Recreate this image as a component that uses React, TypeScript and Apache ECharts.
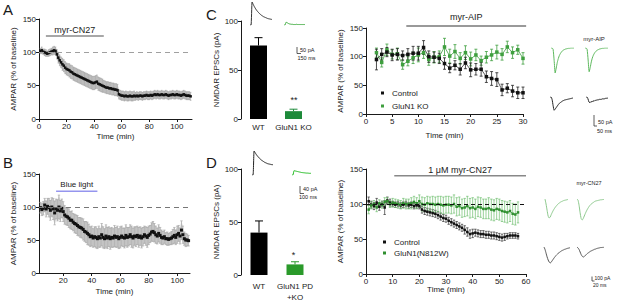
import React, { useEffect, useRef } from "react";
import * as echarts from "echarts";

const FONT = "'Liberation Sans', Arial, Helvetica, sans-serif";
const INK = "#1a1a1a";

// ---------------- Panel A (myr-CN27, % of baseline) ----------------
const aStartMin = 1;
const aMean = [
  102, 103, 101, 100, 99, 98, 99, 100, 101, 102,
  103, 102, 97, 92, 88, 85, 82, 80, 77, 75,
  74, 73, 71, 70, 68, 67, 66, 65, 64, 63,
  62, 61, 60, 59, 58, 57, 56, 55, 54, 54,
  55, 56, 53, 52, 51, 50, 49, 48, 47, 47,
  46, 46, 45, 45, 44, 44, 43, 37, 36, 35,
  35, 34, 35, 34, 34, 35, 34, 34, 35, 34,
  35, 34, 35, 35, 34, 35, 35, 36, 35, 35,
  36, 35, 36, 37, 36, 37, 36, 36, 37, 36,
  36, 37, 36, 35, 36, 36, 37, 36, 36, 37,
  36, 36, 35, 36, 37, 36, 35, 35, 35, 34,
];
const aErr = [
  4, 5, 4, 5, 5, 4, 5, 5, 5, 6,
  6, 6, 7, 8, 8, 8, 9, 9, 9, 9,
  9, 10, 10, 10, 10, 10, 10, 10, 10, 10,
  10, 10, 10, 10, 10, 10, 10, 10, 10, 10,
  10, 10, 10, 10, 10, 10, 9, 9, 9, 9,
  9, 9, 9, 9, 9, 9, 9, 7, 7, 7,
  7, 7, 7, 7, 7, 7, 7, 7, 7, 6,
  6, 6, 6, 6, 6, 6, 6, 6, 6, 6,
  6, 6, 6, 6, 6, 6, 6, 6, 6, 6,
  6, 6, 6, 6, 6, 6, 6, 6, 6, 6,
  6, 6, 6, 6, 6, 6, 6, 6, 6, 6,
];
const aTicks = [0, 20, 40, 60, 80, 100];

// ---------------- Panel B (blue light) ----------------
const bStartMin = 4;
const bMean = [
  99, 96, 98, 103, 97, 101, 99, 95,
  100, 97, 91, 97, 95, 100, 94, 98, 93, 88,
  86, 85, 83, 80, 80, 77, 75, 74, 72, 70,
  69, 68, 66, 63, 62, 60, 58, 55, 56, 53,
  55, 54, 52, 55, 53, 58, 54, 52, 56, 53,
  55, 52, 54, 53, 56, 54, 55, 52, 54, 56,
  54, 53, 57, 54, 55, 58, 55, 53, 56, 55,
  57, 54, 56, 53, 55, 58, 56, 54, 57, 59,
  62, 63, 61, 58, 56, 60, 57, 54, 53, 55,
  52, 52, 51, 52, 53, 55, 57, 54, 58, 60,
  56, 65, 58, 52, 50, 50, 49,
];
const bErr = [
  8, 9, 10, 10, 12, 12, 14, 15,
  14, 16, 18, 15, 16, 18, 16, 14, 15, 14,
  13, 13, 14, 13, 14, 13, 14, 14, 15, 14,
  15, 15, 16, 15, 16, 17, 16, 15, 15, 14,
  15, 16, 15, 16, 14, 17, 16, 15, 17, 16,
  15, 16, 15, 14, 16, 15, 16, 15, 16, 15,
  14, 15, 16, 15, 14, 15, 16, 15, 14, 15,
  14, 15, 14, 15, 14, 13, 14, 15, 14, 13,
  14, 15, 14, 13, 12, 13, 12, 11, 10, 10,
  9, 10, 9, 9, 10, 11, 12, 11, 13, 12,
  12, 14, 13, 10, 10, 9, 8,
];
const bTicks = [20, 40, 60, 80, 100];

// ---------------- Panel C / D bar graphs (NMDAR EPSCs, pA) ----------------
const cBarCats = ["WT", "GluN1 KO"];
const cBarMean = [75, 8];
const cBarErr = [8, 2];
const dBarCats = ["WT", "GluN1 PD\n+KO"];
const dBarMean = [40, 10];
const dBarErr = [11, 2.5];

// ---------------- Panel C time course (myr-AIP) ----------------
const cStartMin = 2;
const cCtrl = [95, 104, 108, 103, 104, 102, 104, 106, 106, 116, 100, 99, 97, 88, 80, 85, 78, 89, 77, 78, 78, 65, 62, 60, 42, 45, 40, 37, 37];
const cCtrlErr = [18, 10, 8, 10, 10, 8, 10, 12, 12, 12, 10, 9, 9, 10, 8, 8, 10, 10, 12, 10, 12, 10, 12, 12, 10, 8, 10, 10, 10];
const cKO = [107, 90, 112, 104, 105, 86, 92, 98, 103, 107, 95, 99, 100, 117, 101, 109, 97, 107, 96, 103, 93, 99, 103, 108, 104, 117, 107, 112, 97];
const cKOErr = [8, 8, 10, 8, 10, 8, 8, 10, 12, 10, 10, 10, 10, 15, 12, 12, 10, 12, 12, 10, 8, 10, 10, 12, 10, 10, 10, 8, 10];

// ---------------- Panel D time course (1 µM myr-CN27) ----------------
const dStartMin = 1;
const dCtrl = [
  104, 99, 97, 102, 96, 100, 95, 105, 102, 100,
  99, 100, 98, 99, 100, 98, 99, 97, 98, 97,
  92, 90, 89, 88, 87, 86, 84, 82, 80, 79,
  76, 74, 72, 70, 68, 66, 63, 60, 57, 58,
  59, 58, 57, 57, 56, 56, 55, 55, 54, 53,
  52, 53, 54, 55, 55, 55, 54,
];
const dCtrlErr = [
  6, 5, 5, 6, 5, 4, 10, 5, 5, 4,
  4, 4, 4, 4, 4, 4, 4, 4, 4, 4,
  5, 5, 5, 5, 5, 5, 5, 5, 5, 5,
  5, 5, 5, 5, 5, 5, 6, 6, 6, 6,
  5, 5, 5, 5, 5, 5, 5, 5, 5, 5,
  5, 5, 4, 4, 4, 4, 4,
];
const dMut = [
  92, 98, 100, 95, 101, 99, 103, 104, 100, 102,
  101, 100, 99, 101, 100, 100, 101, 103, 101, 104,
  100, 99, 101, 100, 100, 99, 100, 99, 98, 99,
  99, 98, 100, 96, 97, 94, 95, 97, 94, 95,
  93, 96, 95, 93, 93, 94, 92, 91, 93, 92,
  90, 89, 88, 90, 86, 85, 88,
];
const dMutErr = [
  6, 5, 5, 6, 5, 5, 6, 5, 5, 6,
  6, 6, 6, 7, 7, 7, 8, 8, 8, 9,
  10, 10, 10, 10, 11, 11, 11, 12, 12, 12,
  12, 12, 13, 13, 13, 13, 13, 14, 14, 14,
  14, 14, 14, 14, 14, 15, 15, 15, 15, 15,
  15, 15, 15, 15, 15, 15, 15,
];

// ---------------- Drug / light application windows ----------------
const drugLabels = ["myr-CN27", "Blue light", "myr-AIP", "1 \u03bcM myr-CN27"];
const drugFrom = [5, 15, 7.7, 10.6];
const drugTo = [47, 44, 30.6, 60];
const drugLevel = [124.5, 124, 153.5, 140.4];

// ---------------- Example traces (relative amplitude) ----------------
const trCWt = [0, 0, 100, 90, 81, 73, 66, 60, 55, 50, 46, 42, 39, 36, 34, 32, 30, 28, 27, 26, 25, 24];
const trCKo = [0, 0, 12, 10, 7, 5, 4, 3, 3, 2, 2, 2, 3, 2, 2, 2, 2, 2, 2, 2, 2];
const trDWt = [0, 0, 100, 93, 86, 80, 75, 70, 66, 62, 59, 56, 53, 51, 49, 47, 46, 45, 44, 43, 43];
const trDPd = [0, 0, 18, 17, 16, 15, 14, 13, 12, 11, 10, 10, 9, 9, 8, 8, 8, 7, 7, 7];
const trCGreenPre = [0, 0, -5, -50, -100, -80, -58, -42, -30, -22, -16, -11, -8, -6, -4, -3, -2, -1, -1, 0, 0, 0, 0];
const trCGreenPost = [0, 0, -5, -48, -95, -78, -56, -40, -29, -21, -15, -11, -8, -6, -4, -3, -2, -1, -1, 0, 0, 0, 0];
const trCBlackPre = [0, 0, -10, -35, -53, -48, -42, -36, -30, -25, -22, -19, -16, -14, -12, -11, -10, -9, -8, -7, -6, -5, -4];
const trCBlackPost = [0, 0, -8, -20, -23, -18, -20, -15, -17, -13, -14, -11, -12, -10, -9, -10, -8, -7, -8, -6, -5, -5, -4];
const trDGreenPre = [0, -20, -45, -68, -76, -72, -62, -53, -45, -38, -32, -27, -22, -18, -15, -12, -10, -8, -6, -5, -4, -3, -2];
const trDGreenPost = [0, -5, -25, -55, -78, -84, -78, -68, -58, -49, -41, -34, -28, -23, -19, -16, -13, -10, -8, -7, -6, -5, -4, -3, -3, -2, -2];
const trDBlackPre = [0, -10, -25, -40, -52, -60, -64, -60, -54, -48, -42, -37, -32, -28, -24, -21, -18, -15, -13, -11, -9, -8, -6, -5, -4, -3];
const trDBlackPost = [0, -4, -10, -20, -30, -37, -40, -38, -34, -30, -26, -23, -20, -17, -15, -13, -11, -9, -8, -6, -5, -4, -3, -2, -2, -1, -1];

// ---------------- helpers ----------------
const pts = (start: number, vals: number[]) => vals.map((v, i) => [start + i, v]);
const errPts = (start: number, m: number[], e: number[]) => m.map((v, i) => [start + i, v - e[i], v + e[i]]);

const errRender = (cap: number, width: number) => (params: any, api: any) => {
  const x = api.value(0);
  const lo = api.coord([x, api.value(1)]);
  const hi = api.coord([x, api.value(2)]);
  const color = api.visual("color");
  const style = { stroke: color, lineWidth: width, fill: null };
  const children: any[] = [{ type: "line", shape: { x1: hi[0], y1: hi[1], x2: lo[0], y2: lo[1] }, style }];
  if (cap > 0) {
    children.push({ type: "line", shape: { x1: hi[0] - cap, y1: hi[1], x2: hi[0] + cap, y2: hi[1] }, style });
    children.push({ type: "line", shape: { x1: lo[0] - cap, y1: lo[1], x2: lo[0] + cap, y2: lo[1] }, style });
  }
  return { type: "group", children };
};

// SEM band: one polygon through mean+err then back through mean-err
const bandRender = (start: number, m: number[], e: number[], fill: string) => (params: any, api: any) => {
  if (params.dataIndex !== 0) return null;
  const upper = m.map((v, i) => api.coord([start + i, v + e[i]]));
  const lower = m.map((v, i) => api.coord([start + i, v - e[i]])).reverse();
  return {
    type: "polygon",
    shape: { points: upper.concat(lower) },
    style: { fill, stroke: null },
    silent: true,
  };
};

const barErrRender = (colors: string[]) => (params: any, api: any) => {
  const i = api.value(0);
  const base = api.coord([i, api.value(1)]);
  const top = api.coord([i, api.value(2)]);
  const style = { stroke: colors[i], lineWidth: 1 };
  return {
    type: "group",
    children: [
      { type: "line", shape: { x1: base[0], y1: base[1], x2: top[0], y2: top[1] }, style },
      { type: "line", shape: { x1: top[0] - 4, y1: top[1], x2: top[0] + 4, y2: top[1] }, style },
    ],
  };
};

const lbl = (size = 8) => ({ color: INK, fontSize: size, fontFamily: FONT, margin: 3 });
const line = { show: true, lineStyle: { color: INK, width: 1 } };
const tick = { show: true, length: 3, lineStyle: { color: INK, width: 1 } };

function valueX(grid: number, min: number, max: number, opts: any = {}) {
  return {
    type: "value", gridIndex: grid, min, max,
    axisLine: line, axisTick: tick, axisLabel: lbl(8), splitLine: { show: false },
    name: "Time (min)", nameLocation: "middle", nameGap: 13,
    nameTextStyle: { color: INK, fontSize: 8, fontFamily: FONT },
    ...opts,
  };
}
function valueY(grid: number, max: number, name: string, gap: number) {
  return {
    type: "value", gridIndex: grid, min: 0, max, interval: 50,
    axisLine: line, axisTick: tick, axisLabel: lbl(8), splitLine: { show: false },
    name, nameLocation: "middle", nameRotate: 90, nameGap: gap,
    nameTextStyle: { color: INK, fontSize: 8, fontFamily: FONT },
  };
}
function hiddenAxis(grid: number, min: number, max: number) {
  return { type: "value", gridIndex: grid, min, max, show: false, splitLine: { show: false } };
}

const traces = [
  { data: trCWt, grid: { left: 250, top: 2, width: 22, height: 23 }, y: [0, 100], color: "#333" },
  { data: trCKo, grid: { left: 284, top: 2, width: 21, height: 23 }, y: [0, 100], color: "#3caa3c" },
  { data: trDWt, grid: { left: 252, top: 151, width: 21, height: 24 }, y: [0, 100], color: "#222" },
  { data: trDPd, grid: { left: 292, top: 151, width: 19, height: 24 }, y: [0, 100], color: "#22bb22" },
  { data: trCGreenPre, grid: { left: 551, top: 48, width: 23, height: 25 }, y: [-100, 0], color: "#5db85d" },
  { data: trCGreenPost, grid: { left: 585, top: 48, width: 23, height: 25 }, y: [-100, 0], color: "#5db85d" },
  { data: trCBlackPre, grid: { left: 550, top: 97, width: 23, height: 25 }, y: [-100, 0], color: "#222" },
  { data: trCBlackPost, grid: { left: 586, top: 97, width: 22, height: 25 }, y: [-100, 0], color: "#222" },
  { data: trDGreenPre, grid: { left: 545, top: 199, width: 23, height: 25 }, y: [-100, 0], color: "#8cc88c" },
  { data: trDGreenPost, grid: { left: 577, top: 199, width: 27, height: 25 }, y: [-100, 0], color: "#8cc88c" },
  { data: trDBlackPre, grid: { left: 544, top: 247, width: 26, height: 25 }, y: [-100, 0], color: "#555" },
  { data: trDBlackPost, grid: { left: 577, top: 247, width: 27, height: 25 }, y: [-100, 0], color: "#555" },
];

function buildOption(): any {
  const grids: any[] = [
    { left: 39, top: 19, width: 153, height: 100 },
    { left: 39, top: 174, width: 151, height: 99 },
    { left: 241, top: 21, width: 70, height: 98 },
    { left: 241, top: 169, width: 72, height: 106 },
    { left: 366, top: 28, width: 157, height: 86 },
    { left: 366, top: 169, width: 160, height: 105 },
  ];
  const xAxes: any[] = [
    valueX(0, 0, 111, { axisLabel: { ...lbl(8), customValues: aTicks }, axisTick: { ...tick, customValues: aTicks } }),
    valueX(1, 3, 109, { nameGap: 14, axisLabel: { ...lbl(8), customValues: bTicks }, axisTick: { ...tick, customValues: bTicks } }),
    { type: "category", gridIndex: 2, data: cBarCats, axisLine: { show: false }, axisTick: { show: false }, axisLabel: { ...lbl(8), margin: 4, interval: 0, hideOverlap: false } },
    { type: "category", gridIndex: 3, data: dBarCats, axisLine: { show: false }, axisTick: { show: false }, axisLabel: { ...lbl(8), margin: 6, lineHeight: 11, interval: 0, hideOverlap: false } },
    valueX(4, 0, 30, { interval: 5, nameGap: 17 }),
    valueX(5, 0, 60, { interval: 10, nameGap: 10, axisLabel: lbl(8) }),
  ];
  const yAxes: any[] = [
    valueY(0, 150, "AMPAR (% of baseline)", 22),
    valueY(1, 150, "AMPAR (% of baseline)", 22),
    valueY(2, 100, "NMDAR EPSCs (pA)", 18),
    valueY(3, 100, "NMDAR EPSCs (pA)", 18),
    valueY(4, 150, "AMPAR (% of baseline)", 22),
    valueY(5, 150, "AMPAR (% of baseline)", 22),
  ];
  const series: any[] = [];

  // Panel A
  series.push(
    { type: "custom", xAxisIndex: 0, yAxisIndex: 0, renderItem: bandRender(aStartMin, aMean, aErr, "#cdcdcd"), data: pts(aStartMin, aMean), encode: { x: 0, y: 1 }, silent: true, z: 1 },
    { type: "custom", xAxisIndex: 0, yAxisIndex: 0, renderItem: errRender(0.8, 0.6), data: errPts(aStartMin, aMean, aErr), encode: { x: 0, y: [1, 2] }, itemStyle: { color: "#a0a0a0" }, silent: true, z: 2 },
    {
      type: "line", xAxisIndex: 0, yAxisIndex: 0, data: pts(aStartMin, aMean), symbol: "rect", symbolSize: 2.5, z: 3,
      itemStyle: { color: "#111" }, lineStyle: { color: "#111", width: 1 },
      markLine: { silent: true, symbol: "none", label: { show: false }, lineStyle: { type: [5, 4], color: "#a0a0a0", width: 1 }, data: [{ yAxis: 100 }] },
    },
  );

  // Panel B
  series.push(
    { type: "custom", xAxisIndex: 1, yAxisIndex: 1, renderItem: bandRender(bStartMin, bMean, bErr, "#d6d6d6"), data: pts(bStartMin, bMean), encode: { x: 0, y: 1 }, silent: true, z: 1 },
    { type: "custom", xAxisIndex: 1, yAxisIndex: 1, renderItem: errRender(1.2, 0.7), data: errPts(bStartMin, bMean, bErr), encode: { x: 0, y: [1, 2] }, itemStyle: { color: "#a8a8a8" }, silent: true, z: 2 },
    {
      type: "line", xAxisIndex: 1, yAxisIndex: 1, data: pts(bStartMin, bMean), symbol: "rect", symbolSize: 3, z: 3,
      itemStyle: { color: "#111" }, lineStyle: { opacity: 0 },
      markLine: { silent: true, symbol: "none", label: { show: false }, lineStyle: { type: [5, 4], color: "#777", width: 1 }, data: [{ yAxis: 100 }] },
    },
  );

  // Panel C bars
  const cColors = ["#000000", "#1e8a3a"];
  series.push(
    { type: "bar", xAxisIndex: 2, yAxisIndex: 2, barWidth: 17, data: cBarMean.map((v, i) => ({ value: v, itemStyle: { color: cColors[i] } })) },
    { type: "custom", xAxisIndex: 2, yAxisIndex: 2, renderItem: barErrRender(cColors), data: cBarMean.map((v, i) => [i, v, v + cBarErr[i]]), encode: { x: 0, y: [1, 2] }, z: 3 },
  );
  // Panel D bars
  const dColors = ["#000000", "#2a9a2a"];
  series.push(
    { type: "bar", xAxisIndex: 3, yAxisIndex: 3, barWidth: 17, data: dBarMean.map((v, i) => ({ value: v, itemStyle: { color: dColors[i] } })) },
    { type: "custom", xAxisIndex: 3, yAxisIndex: 3, renderItem: barErrRender(dColors), data: dBarMean.map((v, i) => [i, v, v + dBarErr[i]]), encode: { x: 0, y: [1, 2] }, z: 3 },
  );

  // Panel C time course
  const cGreen = "#3f9f3f";
  series.push(
    { type: "custom", xAxisIndex: 4, yAxisIndex: 4, renderItem: errRender(1.5, 0.8), data: errPts(cStartMin, cKO, cKOErr), encode: { x: 0, y: [1, 2] }, itemStyle: { color: cGreen }, silent: true },
    { type: "line", name: "GluN1 KO", xAxisIndex: 4, yAxisIndex: 4, data: pts(cStartMin, cKO), symbol: "rect", symbolSize: 3.5, itemStyle: { color: cGreen }, lineStyle: { color: cGreen, width: 0.8 } },
    { type: "custom", xAxisIndex: 4, yAxisIndex: 4, renderItem: errRender(1.5, 0.8), data: errPts(cStartMin, cCtrl, cCtrlErr), encode: { x: 0, y: [1, 2] }, itemStyle: { color: "#222" }, silent: true },
    { type: "line", name: "Control", xAxisIndex: 4, yAxisIndex: 4, data: pts(cStartMin, cCtrl), symbol: "rect", symbolSize: 3.5, itemStyle: { color: "#111" }, lineStyle: { color: "#333", width: 0.8 } },
  );

  // Panel D time course
  const dGreen = "#2f8f2f";
  series.push(
    { type: "custom", xAxisIndex: 5, yAxisIndex: 5, renderItem: errRender(1.2, 0.7), data: errPts(dStartMin, dCtrl, dCtrlErr), encode: { x: 0, y: [1, 2] }, itemStyle: { color: "#333" }, silent: true },
    {
      type: "line", name: "Control", xAxisIndex: 5, yAxisIndex: 5, data: pts(dStartMin, dCtrl), symbol: "rect", symbolSize: 2.5, itemStyle: { color: "#111" }, lineStyle: { color: "#333", width: 0.8 },
      markLine: { silent: true, symbol: "none", label: { show: false }, lineStyle: { type: [4, 3], color: "#111", width: 1 }, data: [{ yAxis: 100 }] },
    },
    { type: "custom", xAxisIndex: 5, yAxisIndex: 5, renderItem: errRender(1.2, 0.7), data: errPts(dStartMin, dMut, dMutErr), encode: { x: 0, y: [1, 2] }, itemStyle: { color: "#6fbf6f" }, silent: true },
    { type: "line", name: "GluN1(N812W)", xAxisIndex: 5, yAxisIndex: 5, data: pts(dStartMin, dMut), symbol: "rect", symbolSize: 2.5, itemStyle: { color: dGreen }, lineStyle: { color: dGreen, width: 0.8 } },
  );

  // Example traces
  traces.forEach((t) => {
    const g = grids.length;
    grids.push(t.grid);
    xAxes.push(hiddenAxis(g, 0, t.data.length - 1));
    yAxes.push(hiddenAxis(g, t.y[0], t.y[1]));
    series.push({
      type: "line", xAxisIndex: g, yAxisIndex: g, data: pts(0, t.data), showSymbol: false, silent: true,
      lineStyle: { color: t.color, width: 1 }, itemStyle: { color: t.color }, smooth: 0.2,
    });
  });

  const legendText = { fontSize: 8, fontFamily: FONT, color: INK, padding: [0, 0, 0, 3] };
  return {
    animation: false,
    backgroundColor: "#ffffff",
    textStyle: { fontFamily: FONT },
    grid: grids,
    xAxis: xAxes,
    yAxis: yAxes,
    legend: [
      {
        data: ["Control", "GluN1 KO"], left: 381, top: 89, orient: "vertical", icon: "rect", itemWidth: 3, itemHeight: 3,
        itemGap: 5, padding: 0, textStyle: legendText, selectedMode: false,
      },
      {
        data: ["Control", "GluN1(N812W)"], left: 383, top: 238, orient: "vertical", icon: "rect", itemWidth: 3, itemHeight: 3,
        itemGap: 3, padding: 0, textStyle: legendText, selectedMode: false,
      },
    ],
    series,
  };
}

function txt(x: number, y: number, text: string, size: number, align = "center", extra: any = {}) {
  return {
    type: "text", x, y, silent: true,
    style: { text, fontSize: size, fontFamily: FONT, fill: INK, align, textAlign: align, verticalAlign: "middle", textVerticalAlign: "middle", ...extra },
  };
}
function seg(x1: number, y1: number, x2: number, y2: number, stroke = INK, lineWidth = 1) {
  return { type: "line", silent: true, shape: { x1, y1, x2, y2 }, style: { stroke, lineWidth } };
}

export default function App() {
  const ref = useRef<HTMLDivElement>(null);
  useEffect(() => {
    document.body.style.margin = "0";
    const chart = echarts.init(ref.current!, null, { renderer: "svg", width: 617, height: 303 });
    chart.setOption(buildOption());

    const drugGrids = [0, 1, 4, 5];
    const drugColors = ["#8a8a8a", "#9595ee", "#777777", "#888888"];
    const drugLift = [6, 7, 9, 6];
    const drugSize = [9, 8, 9, 9];
    const g: any[] = [];
    drugLabels.forEach((label, i) => {
      const p1 = chart.convertToPixel({ gridIndex: drugGrids[i] }, [drugFrom[i], drugLevel[i]]) as number[];
      const p2 = chart.convertToPixel({ gridIndex: drugGrids[i] }, [drugTo[i], drugLevel[i]]) as number[];
      g.push(seg(p1[0], p1[1], p2[0], p2[1], drugColors[i], 1.5));
      g.push(txt((p1[0] + p2[0]) / 2, p1[1] - drugLift[i], label, drugSize[i]));
    });

    // panel letters
    g.push(txt(3, 9, "A", 15, "left"), txt(3, 162, "B", 15, "left"), txt(206, 14, "C", 15, "left"), txt(206, 162, "D", 15, "left"));
    // significance
    g.push(txt(294, 100, "**", 9), txt(293.5, 255, "*", 9));
    // scale bars
    g.push(seg(297, 47, 297, 53.5, "#333", 0.8), seg(297, 53.5, 301, 53.5, "#333", 0.8), txt(300, 49.5, "50 pA", 5.5, "left"), txt(297.5, 58, "150 ms", 5.5, "left"));
    g.push(seg(300, 186, 300, 193.5, "#333", 0.8), seg(300, 193.5, 304, 193.5, "#333", 0.8), txt(303, 189, "40 pA", 5.5, "left"), txt(299, 197, "100 ms", 5.5, "left"));
    g.push(seg(594, 115, 594, 126, "#333", 0.8), seg(594, 126, 597, 126, "#333", 0.8), txt(598, 121.5, "50 pA", 5.5, "left"), txt(597, 131, "50 ms", 5.5, "left"));
    g.push(seg(592, 276.5, 592, 281, "#333", 0.8), seg(592, 281, 594.5, 281, "#333", 0.8), txt(594.5, 278, "100 pA", 5, "left"), txt(593, 285, "20 ms", 5, "left"));
    // trace condition labels
    g.push(txt(594, 39, "myr-AIP", 6), txt(589, 182.5, "myr-CN27", 5.5));

    chart.setOption({ graphic: g });
    return () => chart.dispose();
  }, []);
  return <div ref={ref} style={{ position: "absolute", left: 0, top: 0, width: 617, height: 303 }} />;
}
